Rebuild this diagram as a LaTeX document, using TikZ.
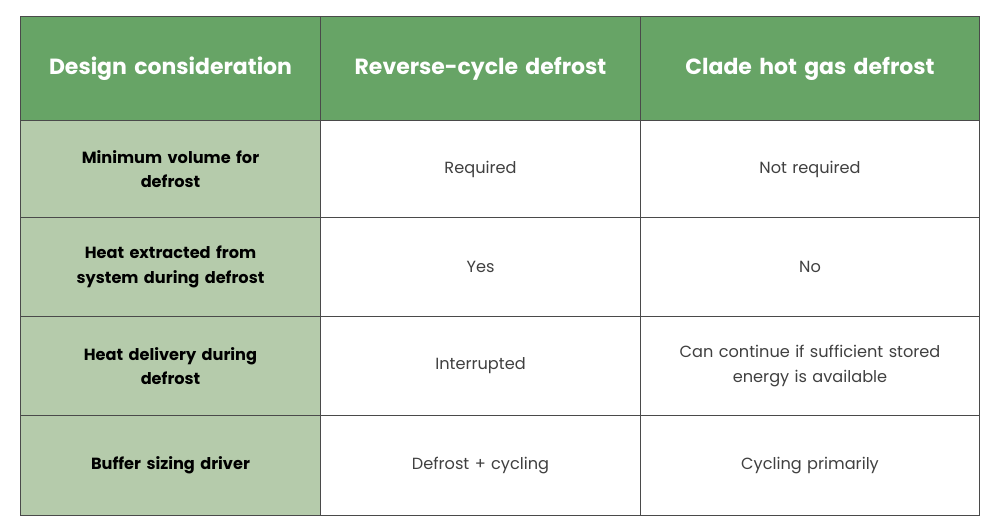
\documentclass[tikz,border=0pt]{standalone}
\usepackage{fontspec}
\setmainfont{Poppins}
\definecolor{headgreen}{HTML}{67A466}
\definecolor{sidegreen}{HTML}{B5CBAB}
\definecolor{gridgray}{HTML}{4A4A4A}
\tikzstyle{cell}=[draw=gridgray,line width=0.6pt,inner sep=4pt,align=center,anchor=north west]
\tikzstyle{head}=[cell,fill=headgreen,text=white,font=\fontsize{12.5}{15}\selectfont\bfseries]
\tikzstyle{side}=[cell,fill=sidegreen,text=black,font=\fontsize{9.2}{14}\selectfont\bfseries]
\tikzstyle{body}=[cell,fill=white,text=black!75,font=\fontsize{9.2}{14}\selectfont]
\begin{document}
\begin{tikzpicture}[x=0.02cm,y=-0.02cm]
\useasboundingbox (0,0) rectangle (1000,530);
% header row
\foreach \x/\w/\name/\txt in {20/300/h1/Design consideration, 320/320/h2/Reverse-cycle defrost,
                              640/339/h3/Clade hot gas defrost}{
  \node[head,minimum width=\w*0.02cm,minimum height=104*0.02cm,text width=\w*0.02cm-8pt] (\name) at (\x,16) {\txt};
}
% body rows
\foreach \y/\h/\r/\a/\b/\c in {120/97/1/{Minimum volume for\\defrost}/Required/Not required,
    217/99/2/{Heat extracted from\\system during defrost}/Yes/No,
    316/99/3/{Heat delivery during\\defrost}/Interrupted/{Can continue if sufficient stored\\energy is available},
    415/100/4/{Buffer sizing driver}/{Defrost + cycling}/{Cycling primarily}}{
  \node[side,minimum width=300*0.02cm,minimum height=\h*0.02cm,text width=280*0.02cm] (s\r) at (20,\y) {\a};
  \node[body,minimum width=320*0.02cm,minimum height=\h*0.02cm,text width=300*0.02cm] (m\r) at (320,\y) {\b};
  \node[body,minimum width=339*0.02cm,minimum height=\h*0.02cm,text width=320*0.02cm] (e\r) at (640,\y) {\c};
}
\end{tikzpicture}
\end{document}
